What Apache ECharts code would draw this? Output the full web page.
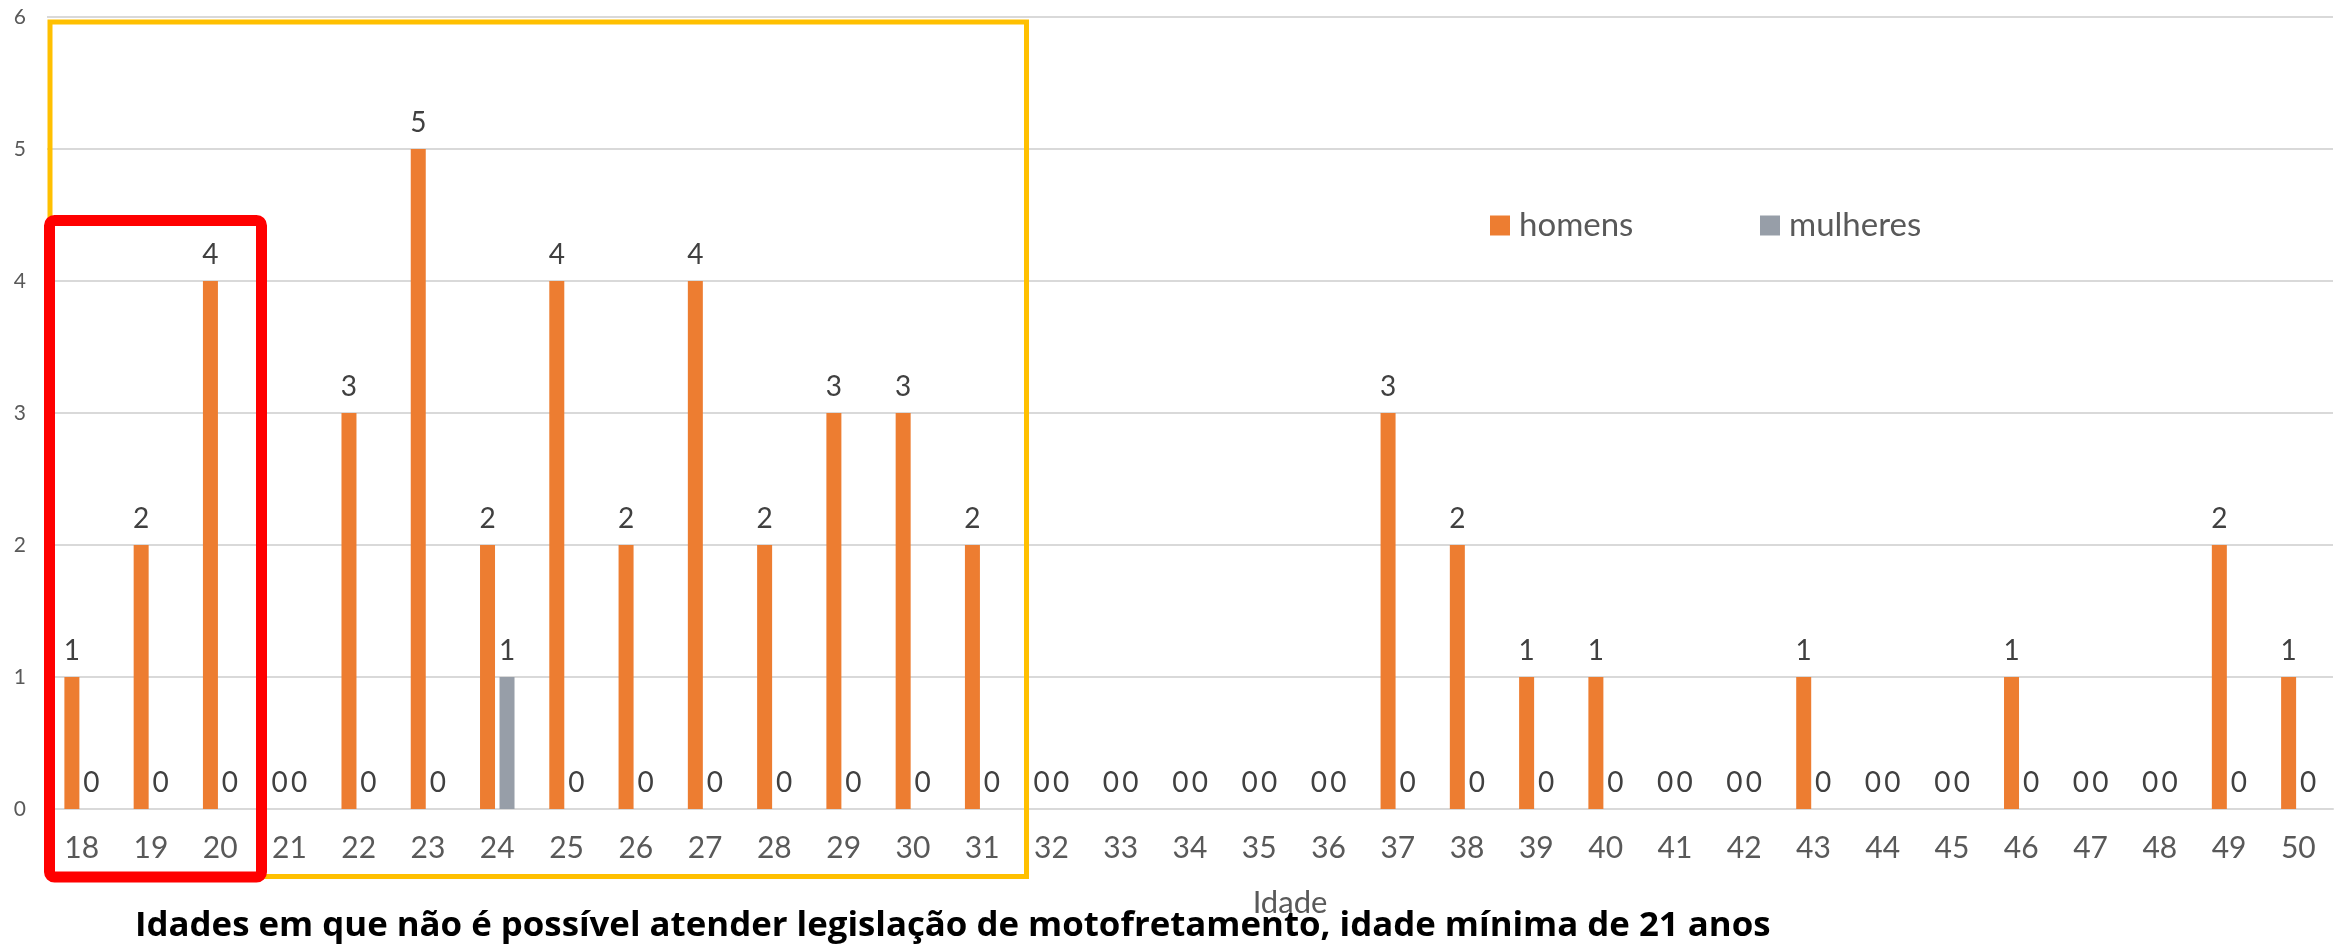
<!DOCTYPE html>
<html>
<head>
<meta charset="utf-8">
<script src="https://cdn.jsdelivr.net/npm/echarts@6/dist/echarts.min.js"></script>
<style>
  html, body { margin: 0; padding: 0; background: #ffffff; }
  #chart { width: 2346px; height: 946px; }
</style>
</head>
<body>
<div id="chart"></div>
<script>
// ---- data ----
const ages = ['18','19','20','21','22','23','24','25','26','27','28','29','30','31','32','33','34','35','36','37','38','39','40','41','42','43','44','45','46','47','48','49','50'];
const homens = [1,2,4,0,3,5,2,4,2,4,2,3,3,2,0,0,0,0,0,3,2,1,1,0,0,1,0,0,1,0,0,2,1];
const mulheres = [0,0,0,0,0,0,1,0,0,0,0,0,0,0,0,0,0,0,0,0,0,0,0,0,0,0,0,0,0,0,0,0,0];
const seriesNames = ['homens', 'mulheres'];
const axisTitle = 'Idade';
const noteText = 'Idades em que não é possível atender legislação de motofretamento, idade mínima de 21 anos';
const yMin = 0, yMax = 6, yStep = 1;

const FONT = 'Lato';
const chart = echarts.init(document.getElementById('chart'), null, { renderer: 'canvas' });

const dataLabel = {
  show: true,
  position: 'top',
  distance: 12,
  fontFamily: FONT,
  fontSize: 28,
  color: '#404040'
};

chart.setOption({
  animation: false,
  backgroundColor: '#ffffff',
  textStyle: { fontFamily: FONT },
  title: {
    text: noteText,
    left: 130,
    top: 904,
    textStyle: { fontFamily: 'Open Sans', fontSize: 34.8, fontWeight: 'bold', color: '#000000' }
  },
  legend: [
    {
      data: [seriesNames[0]],
      left: 1485, top: 204,
      itemWidth: 20, itemHeight: 20,
      icon: 'rect',
      textStyle: { fontFamily: FONT, fontSize: 33, color: '#595959', padding: [0, 0, 0, 4] }
    },
    {
      data: [seriesNames[1]],
      left: 1755, top: 204,
      itemWidth: 20, itemHeight: 20,
      icon: 'rect',
      textStyle: { fontFamily: FONT, fontSize: 33, color: '#595959', padding: [0, 0, 0, 4] }
    }
  ],
  grid: { left: 47, right: 13, top: 17, bottom: 137, containLabel: false },
  xAxis: {
    type: 'category',
    data: ages,
    name: axisTitle,
    nameLocation: 'middle',
    nameGap: 78,
    nameTextStyle: { fontFamily: FONT, fontSize: 31, color: '#595959', padding: [0, 0, 0, 200] },
    axisLine: { show: true, lineStyle: { color: '#D9D9D9', width: 2 } },
    axisTick: { show: false },
    axisLabel: { fontFamily: FONT, fontSize: 30, color: '#595959', margin: 24, interval: 0 }
  },
  yAxis: {
    type: 'value',
    min: yMin, max: yMax, interval: yStep,
    axisLine: { show: false },
    axisTick: { show: false },
    axisLabel: { fontFamily: FONT, fontSize: 21, color: '#595959', margin: 21 },
    splitLine: { lineStyle: { color: '#D9D9D9', width: 2 } }
  },
  series: [
    {
      name: seriesNames[0],
      type: 'bar',
      data: homens,
      barWidth: 15,
      barGap: '30%',
      itemStyle: { color: '#ED7D31' },
      label: dataLabel
    },
    {
      name: seriesNames[1],
      type: 'bar',
      data: mulheres,
      barWidth: 15,
      itemStyle: { color: '#979EA8' },
      label: dataLabel
    }
  ],
  graphic: [
    {
      type: 'rect',
      z: 100,
      shape: { x: 50, y: 22, width: 976.5, height: 854.5 },
      style: { fill: 'none', stroke: '#FFC000', lineWidth: 5 }
    },
    {
      type: 'rect',
      z: 101,
      shape: { x: 49.5, y: 220.5, width: 212, height: 656.5, r: 5 },
      style: { fill: 'none', stroke: '#FF0000', lineWidth: 11 }
    }
  ]
});
</script>
</body>
</html>
